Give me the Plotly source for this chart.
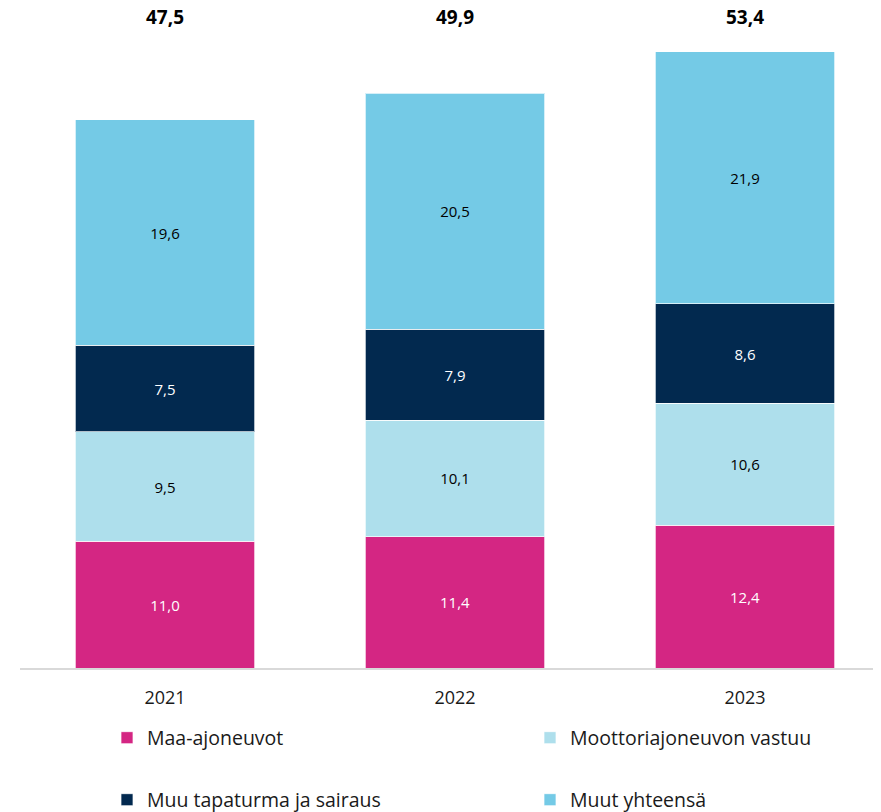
import plotly.graph_objects as go

years = ["2021", "2022", "2023"]
series_names = ["Maa-ajoneuvot", "Moottoriajoneuvon vastuu", "Muu tapaturma ja sairaus", "Muut yhteensä"]
maa_ajoneuvot = [11.0, 11.4, 12.4]
moottoriajoneuvon_vastuu = [9.5, 10.1, 10.6]
muu_tapaturma = [7.5, 7.9, 8.6]
muut_yhteensa = [19.6, 20.5, 21.9]
totals = [47.5, 49.9, 53.4]

colors = ["#D42683", "#AEDFEC", "#02294F", "#74CAE6"]
text_colors = ["white", "black", "white", "black"]
legend_ids = ["legend", "legend2", "legend3", "legend4"]
# legend placement (figure pixels): left x, center y
legend_pos = [(99, 730), (522, 730), (99, 792), (522, 792)]

FONT = "Open Sans"
# the page body has an 8px margin, so the figure is sized to fit the window
W, H = 873, 804
PX_PER_UNIT = 11.52
PLOT_H = 660
YMAX = PLOT_H / PX_PER_UNIT

def fmt(v):
    return f"{v:.1f}".replace(".", ",")

fig = go.Figure()
for name, vals, col, tcol, lg in zip(
    series_names,
    [maa_ajoneuvot, moottoriajoneuvon_vastuu, muu_tapaturma, muut_yhteensa],
    colors, text_colors, legend_ids,
):
    fig.add_trace(go.Bar(
        x=years, y=vals, name=name,
        marker=dict(color=col, line=dict(color="rgba(255,255,255,0.7)", width=1)),
        width=0.62,
        text=[fmt(v) for v in vals],
        textposition="inside", insidetextanchor="middle",
        textfont=dict(family=FONT, size=15, color=tcol),
        legend=lg,
        hoverinfo="skip",
    ))

for i, t in enumerate(totals):
    fig.add_annotation(
        x=i, y=YMAX - 9 / PX_PER_UNIT, xref="x", yref="y", yanchor="middle",
        text=f"<b>{fmt(t)}</b>", showarrow=False,
        font=dict(family=FONT, size=19, color="black"),
    )

layout_legends = {}
for lg, (lx, ly) in zip(legend_ids, legend_pos):
    layout_legends[lg] = dict(
        orientation="h", xref="container", yref="container",
        x=lx / W, y=(H - ly) / H, yanchor="middle", xanchor="left",
        font=dict(family=FONT, size=19.5, color="#1a1a1a"),
        bgcolor="rgba(0,0,0,0)",
    )

fig.update_layout(
    width=W, height=H,
    margin=dict(l=12, r=0, t=0, b=H - PLOT_H, autoexpand=False),
    plot_bgcolor="white", paper_bgcolor="white",
    barmode="stack",
    showlegend=True,
    font=dict(family=FONT, color="#1a1a1a"),
    xaxis=dict(
        type="category", range=[-0.5, 2.469],
        showline=True, linecolor="#d9d9d9", linewidth=1.5,
        showgrid=False, ticks="", ticklabelstandoff=13,
        tickfont=dict(family=FONT, size=18, color="#1a1a1a"),
        automargin=False,
    ),
    yaxis=dict(range=[0, YMAX], visible=False, showgrid=False, zeroline=False),
    **layout_legends,
)

fig.write_html("out.html")
